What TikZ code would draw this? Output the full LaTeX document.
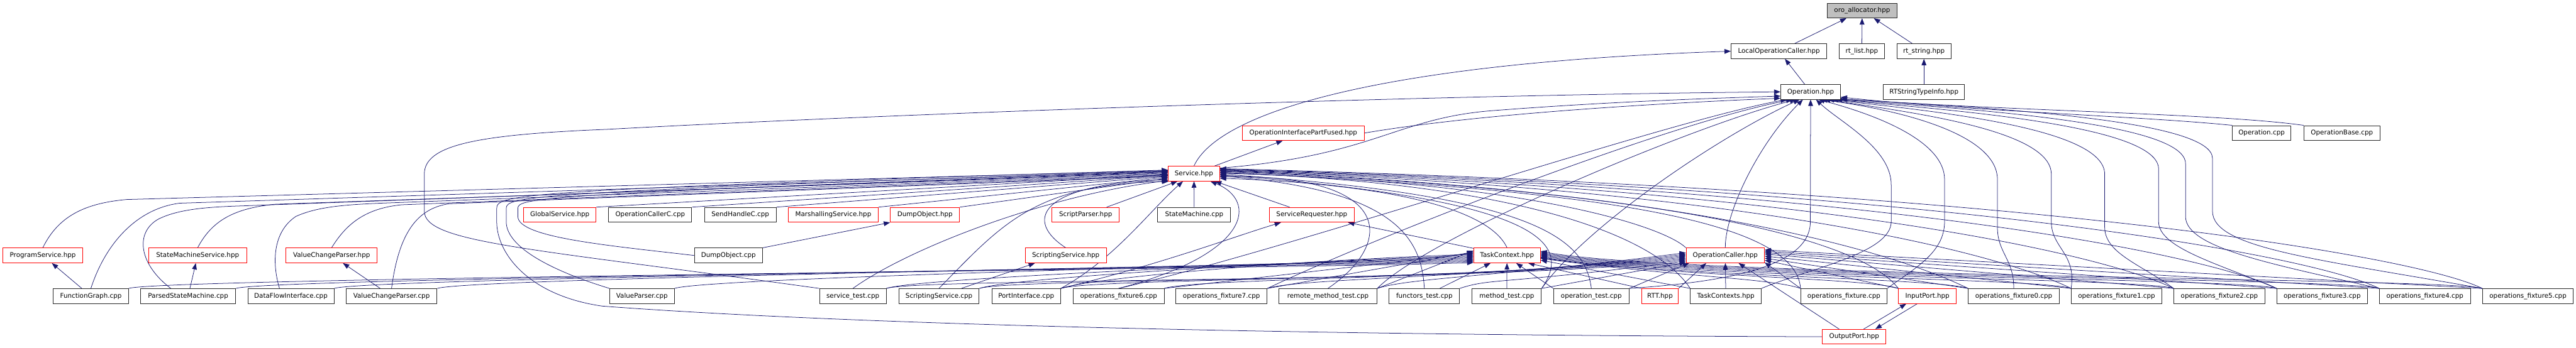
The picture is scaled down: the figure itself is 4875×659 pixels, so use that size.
\documentclass[tikz,border=0pt]{standalone}
\usepackage{fontspec}
\setmainfont{DejaVu Sans}
\usetikzlibrary{arrows.meta}
\definecolor{edgec}{RGB}{25,25,112}
\definecolor{boxc}{RGB}{40,40,40}
\definecolor{redc}{RGB}{255,0,0}
\definecolor{grayf}{RGB}{191,191,191}
\pgfdeclarelayer{bg}
\pgfsetlayers{bg,main}
\newcommand\edgeL[3]{\draw[e] (#1.north east) .. controls +(60,-20) and +(-350,#3) .. (#2);}
\newcommand\edgeR[2]{\draw[e] (#1.north west) .. controls +(-60,-20) and (3180,525) .. (#2);}
\begin{document}
\begin{tikzpicture}[x=1pt,y=-1pt,
  bx/.style={draw=boxc,line width=1.1pt,fill=white,minimum height=28,inner sep=0pt,font=\fontsize{12.3}{14}\selectfont},
  rb/.style={bx,draw=redc},
  e/.style={draw=edgec,line width=0.9pt,-{Triangle[length=12pt,width=9pt]}}]
\useasboundingbox (0,0) rectangle (4875,659);
% ---------- nodes ----------
\node[bx,fill=grayf,minimum width=132] (oro) at (3524,20) {oro\_allocator.hpp};
\node[bx,minimum width=181] (loc) at (3366.5,97) {LocalOperationCaller.hpp};
\node[bx,minimum width=85] (rtl) at (3523.5,97) {rt\_list.hpp};
\node[bx,minimum width=102] (rts) at (3641,97) {rt\_string.hpp};
\node[bx,minimum width=113] (op) at (3426.5,174) {Operation.hpp};
\node[bx,minimum width=154] (rtsti) at (3641,174) {RTStringTypeInfo.hpp};
\node[rb,minimum width=231] (oipf) at (2466.5,252) {OperationInterfacePartFused.hpp};
\node[bx,minimum width=110] (opcpp) at (4280,252) {Operation.cpp};
\node[bx,minimum width=144] (opbase) at (4432,252) {OperationBase.cpp};
\node[rb,minimum width=97] (svc) at (2259.5,329) {Service.hpp};
\node[rb,minimum width=137] (glob) at (1059.5,407) {GlobalService.hpp};
\node[bx,minimum width=157] (occ) at (1230.5,407) {OperationCallerC.cpp};
\node[bx,minimum width=136] (shc) at (1401,407) {SendHandleC.cpp};
\node[rb,minimum width=170] (mars) at (1577,407) {MarshallingService.hpp};
\node[rb,minimum width=131] (dumph) at (1750.5,407) {DumpObject.hpp};
\node[rb,minimum width=127] (sparser) at (2054.5,407) {ScriptParser.hpp};
\node[bx,minimum width=138] (smcpp) at (2260,407) {StateMachine.cpp};
\node[rb,minimum width=161] (sreq) at (2482.5,407) {ServiceRequester.hpp};
\node[rb,minimum width=152] (progsvc) at (81,484) {ProgramService.hpp};
\node[rb,minimum width=186] (smsvc) at (374,484) {StateMachineService.hpp};
\node[rb,minimum width=173] (vcph) at (627.5,484) {ValueChangeParser.hpp};
\node[bx,minimum width=129] (dumpcpp) at (1378.5,484) {DumpObject.cpp};
\node[rb,minimum width=154] (scsvch) at (2017,484) {ScriptingService.hpp};
\node[rb,minimum width=126] (tc) at (2852,484) {TaskContext.hpp};
\node[rb,minimum width=148] (opcaller) at (3265,484) {OperationCaller.hpp};
\node[bx,minimum width=142] (fg) at (172,561) {FunctionGraph.cpp};
\node[bx,minimum width=180] (psm) at (356,561) {ParsedStateMachine.cpp};
\node[bx,minimum width=163] (dfi) at (550.5,561) {DataFlowInterface.cpp};
\node[bx,minimum width=172] (vcpcpp) at (741,561) {ValueChangeParser.cpp};
\node[bx,minimum width=122] (vp) at (1215,561) {ValueParser.cpp};
\node[bx,minimum width=126] (svctest) at (1614,561) {service\_test.cpp};
\node[bx,minimum width=152] (scsvccpp) at (1777,561) {ScriptingService.cpp};
\node[bx,minimum width=130] (portif) at (1942,561) {PortInterface.cpp};
\node[bx,minimum width=172] (of6) at (2117,561) {operations\_fixture6.cpp};
\node[bx,minimum width=173] (of7) at (2311.5,561) {operations\_fixture7.cpp};
\node[bx,minimum width=186] (rmt) at (2513,561) {remote\_method\_test.cpp};
\node[bx,minimum width=133] (ft) at (2695.5,561) {functors\_test.cpp};
\node[bx,minimum width=131] (mt) at (2851.5,561) {method\_test.cpp};
\node[bx,minimum width=143] (ot) at (3011.5,561) {operation\_test.cpp};
\node[rb,minimum width=69] (rtt) at (3141.5,561) {RTT.hpp};
\node[bx,minimum width=134] (tcs) at (3266,561) {TaskContexts.hpp};
\node[bx,minimum width=163] (of) at (3489.5,561) {operations\_fixture.cpp};
\node[rb,minimum width=109] (inport) at (3647.5,561) {InputPort.hpp};
\node[bx,minimum width=172] (of0) at (3811,561) {operations\_fixture0.cpp};
\node[bx,minimum width=171] (of1) at (4005.5,561) {operations\_fixture1.cpp};
\node[bx,minimum width=172] (of2) at (4200,561) {operations\_fixture2.cpp};
\node[bx,minimum width=171] (of3) at (4394.5,561) {operations\_fixture3.cpp};
\node[bx,minimum width=172] (of4) at (4589,561) {operations\_fixture4.cpp};
\node[bx,minimum width=172] (of5) at (4784,561) {operations\_fixture5.cpp};
\node[rb,minimum width=120] (outport) at (3509,638) {OutputPort.hpp};
% ---------- edges ----------
\begin{pgfonlayer}{bg}
\fill[white] (0,0) rectangle (4875,659);
% top cluster
\draw[e] (loc) -- (oro);
\draw[e] (rtl) -- (oro);
\draw[e] (rts) -- (oro);
\draw[e] (rtsti) -- (rts);
\draw[e] (op) -- (loc);
\draw[e] (svc.north) .. controls (2305,215) and (2600,120) .. (loc.west);
\draw[e] (svc) -- (oipf);
% into Operation.hpp from the left
\draw[e] (svctest.north west) .. controls (1000,470) and (803,460) .. (803,400) -- (803,330) .. controls (803,275) and (900,255) .. (1150,245) .. controls (1700,215) and (2700,180) .. (op.west);
\draw[e] (svc.12) .. controls (2600,295) and (2640,225) .. (2820,210) .. controls (3050,192) and (3250,186) .. (op.188);
\draw[e] (oipf.east) .. controls (2800,215) and (3150,195) .. (op.192);
\draw[e] (of6.north) .. controls (2450,470) and (3150,230) .. (op.198);
\draw[e] (of7.north east) .. controls (2600,450) and (3150,235) .. (op.203);
\draw[e] (rmt.north east) .. controls (2700,450) and (3200,240) .. (op.208);
\draw[e] (mt.north east) .. controls (3000,430) and (3250,260) .. (op.215);
\draw[e] (opcaller.north) .. controls (3265,400) and (3330,270) .. (op.225);
\draw[e] (ot.north east) .. controls (3250,535) and (3426,510) .. (3426,420) -- (op.south);
% into Operation.hpp from the right
\draw[e] (opcpp.north west) .. controls (4050,220) and (3750,212) .. (op.350);
\draw[e] (opbase.north west) .. controls (4200,215) and (3800,210) .. (op.347);
\draw[e] (tcs.north east) .. controls (3420,510) and (3579,480) .. (3579,420) -- (3579,350) .. controls (3579,280) and (3480,230) .. (op.305);
\draw[e] (of.north east) .. controls (3620,510) and (3680,480) .. (3680,420) -- (3680,340) .. controls (3680,270) and (3560,220) .. (op.315);
\draw[e] (of0.north) .. controls (3811,490) and (3780,480) .. (3780,430) -- (3780,340) .. controls (3780,260) and (3620,212) .. (op.323);
\draw[e] (of1.north west) .. controls (3930,480) and (3882,470) .. (3882,420) -- (3882,330) .. controls (3882,250) and (3640,215) .. (op.330);
\draw[e] (of2.north west) .. controls (4050,500) and (3983,480) .. (3983,430) -- (3983,330) .. controls (3983,245) and (3680,212) .. (op.336);
\draw[e] (of3.north west) .. controls (4200,500) and (4085,470) .. (4085,420) -- (4085,320) .. controls (4085,240) and (3720,210) .. (op.340);
\draw[e] (of4.north west) .. controls (4300,500) and (4136,470) .. (4136,410) -- (4136,310) .. controls (4136,235) and (3760,208) .. (op.343);
\draw[e] (of5.north west) .. controls (4380,490) and (4187,470) .. (4187,400) -- (4187,300) .. controls (4187,230) and (3800,205) .. (op.346);
% into Service.hpp from the left
\draw[e] (progsvc.north) .. controls (110,410) and (160,385) .. (240,378) -- (svc.173);
\draw[e] (fg.north) .. controls (200,460) and (260,395) .. (340,385) -- (svc.175);
\draw[e] (psm.156) .. controls (262,500) and (255,440) .. (300,415) .. controls (340,395) and (400,392) .. (460,390) -- (svc.177);
\draw[e] (smsvc.north) .. controls (400,420) and (440,395) .. (520,387) -- (svc.179);
\draw[e] (dfi.146) .. controls (515,500) and (515,440) .. (560,410) .. controls (600,392) and (650,388) .. (720,385) -- (svc.181);
\draw[e] (vcph.north) .. controls (655,425) and (690,395) .. (760,388) -- (svc.183);
\draw[e] (vcpcpp.north) .. controls (755,440) and (790,395) .. (850,386) -- (svc.185);
\draw[e] (dumpcpp.west) .. controls (1150,465) and (980,450) .. (980,410) -- (980,395) .. controls (980,375) and (1010,368) .. (svc.176);
\draw[e] (vp.north west) .. controls (1050,515) and (958,470) .. (958,420) -- (958,395) .. controls (958,372) and (990,364) .. (svc.174);
\draw[e] (outport.west) .. controls (2700,636) and (1700,622) .. (1140,580) .. controls (1000,560) and (940,480) .. (940,420) -- (940,395) .. controls (940,368) and (975,360) .. (svc.172);
\draw[e] (glob.north east) -- (svc.182);
\draw[e] (occ.north east) -- (svc.184);
\draw[e] (shc.north east) -- (svc.186);
\draw[e] (mars.north east) -- (svc.188);
\draw[e] (dumph.north east) -- (svc.190);
\draw[e] (dumpcpp.north east) -- (dumph.south west);
% into Service.hpp from below
\draw[e] (scsvch.north) .. controls (1940,420) and (1960,350) .. (svc.193);
\draw[e] (scsvccpp.north) .. controls (1900,420) and (1960,350) .. (svc.197);
\draw[e] (svctest.north) .. controls (1720,470) and (1980,370) .. (svc.195);
\draw[e] (sparser) -- (svc.205);
\draw[e] (smcpp) -- (svc);
\draw[e] (portif.north east) .. controls (2110,490) and (2175,400) .. (svc.215);
\draw[e] (portif.north east) .. controls (2200,500) and (2330,450) .. (sreq.194);
\draw[e] (of6.north) .. controls (2370,480) and (2380,380) .. (svc.335);
\draw[e] (sreq) -- (svc.340);
\draw[e] (tc.168) -- (sreq.348);
% into Service.hpp from the right
\draw[e] (tc.north) .. controls (2820,400) and (2650,350) .. (svc.350);
\draw[e] (rmt.north) .. controls (2640,460) and (2640,330) .. (svc.353);
\draw[e] (ft.north) .. controls (2690,450) and (2640,360) .. (svc.355);
\draw[e] (mt.north east) .. controls (2970,470) and (2950,380) .. (svc.357);
\draw[e] (ot.north) .. controls (3000,450) and (2900,370) .. (svc.359);
\draw[e] (opcaller.north west) .. controls (3150,430) and (2900,345) .. (svc.1);
\draw[e] (tcs.north west) .. controls (3150,470) and (2950,350) .. (svc.2);
\draw[e] (of.north west) .. controls (3398,417) and (3024,360) .. (svc.3);
\draw[e] (inport.north west) .. controls (3520,450) and (3143,360) .. (svc.5);
\draw[e] (of0.north west) .. controls (3605,487) and (3229,360) .. (svc.6);
\draw[e] (of1.north west) .. controls (3800,487) and (3356,360) .. (svc.7);
\draw[e] (of2.north west) .. controls (3994,487) and (3482,360) .. (svc.8);
\draw[e] (of3.north west) .. controls (4189,487) and (3609,360) .. (svc.9);
\draw[e] (of4.north west) .. controls (4383,487) and (3735,360) .. (svc.10);
\draw[e] (of5.north west) .. controls (4578,487) and (3862,360) .. (svc.11);
% into TaskContext.hpp
\edgeL{fg}{tc.192}{12}
\edgeL{psm}{tc.190}{12}
\edgeL{dfi}{tc.188}{12}
\edgeL{vcpcpp}{tc.186}{12}
\edgeL{vp}{tc.184}{12}
\edgeL{svctest}{tc.182}{12}
\edgeL{scsvccpp}{tc.180}{12}
\edgeL{portif}{tc.178}{12}
\draw[e] (of6.north east) -- (tc.176);
\draw[e] (of7.north east) -- (tc.174);
\draw[e] (rmt.north east) -- (tc.172);
\draw[e] (ft) -- (tc.205);
\draw[e] (mt) -- (tc);
\draw[e] (ot.north west) -- (tc.320);
\draw[e] (rtt.north west) -- (tc.340);
\draw[e] (tcs.north west) -- (tc.352);
\edgeR{of}{tc.355}
\edgeR{inport}{tc.356}
\edgeR{of0}{tc.357}
\edgeR{of1}{tc.359}
\edgeR{of2}{tc.1}
\edgeR{of3}{tc.3}
\edgeR{of4}{tc.5}
\edgeR{of5}{tc.7}
% into OperationCaller.hpp
\edgeL{svctest}{opcaller.186}{45}
\edgeL{scsvccpp}{opcaller.184}{45}
\edgeL{portif}{opcaller.182}{45}
\edgeL{of6}{opcaller.180}{45}
\edgeL{of7}{opcaller.178}{45}
\edgeL{rmt}{opcaller.176}{45}
\edgeL{ft}{opcaller.188}{45}
\draw[e] (mt.north east) -- (opcaller.190);
\draw[e] (ot.north east) -- (opcaller.192);
\draw[e] (rtt.north east) -- (opcaller.202);
\draw[e] (tcs) -- (opcaller);
\draw[e] (outport.153) -- (opcaller.330);
\draw[e] (of.north west) -- (opcaller.350);
\draw[e] (inport.north west) -- (opcaller.353);
\draw[e] (of0.north west) -- (opcaller.356);
\draw[e] (of1.north west) -- (opcaller.359);
\draw[e] (of2.north west) -- (opcaller.2);
\draw[e] (of3.north west) -- (opcaller.4);
\draw[e] (of4.north west) -- (opcaller.6);
\draw[e] (of5.north west) -- (opcaller.8);
% ports and local includes
\draw[e] (outport.39) -- (inport.200);
\draw[e] (inport.217) -- (outport.20);
\draw[e] (fg) -- (progsvc);
\draw[e] (psm) -- (smsvc);
\draw[e] (vcpcpp) -- (vcph);
\draw[e] (scsvccpp) -- (scsvch.194);
\end{pgfonlayer}
\end{tikzpicture}
\end{document}
